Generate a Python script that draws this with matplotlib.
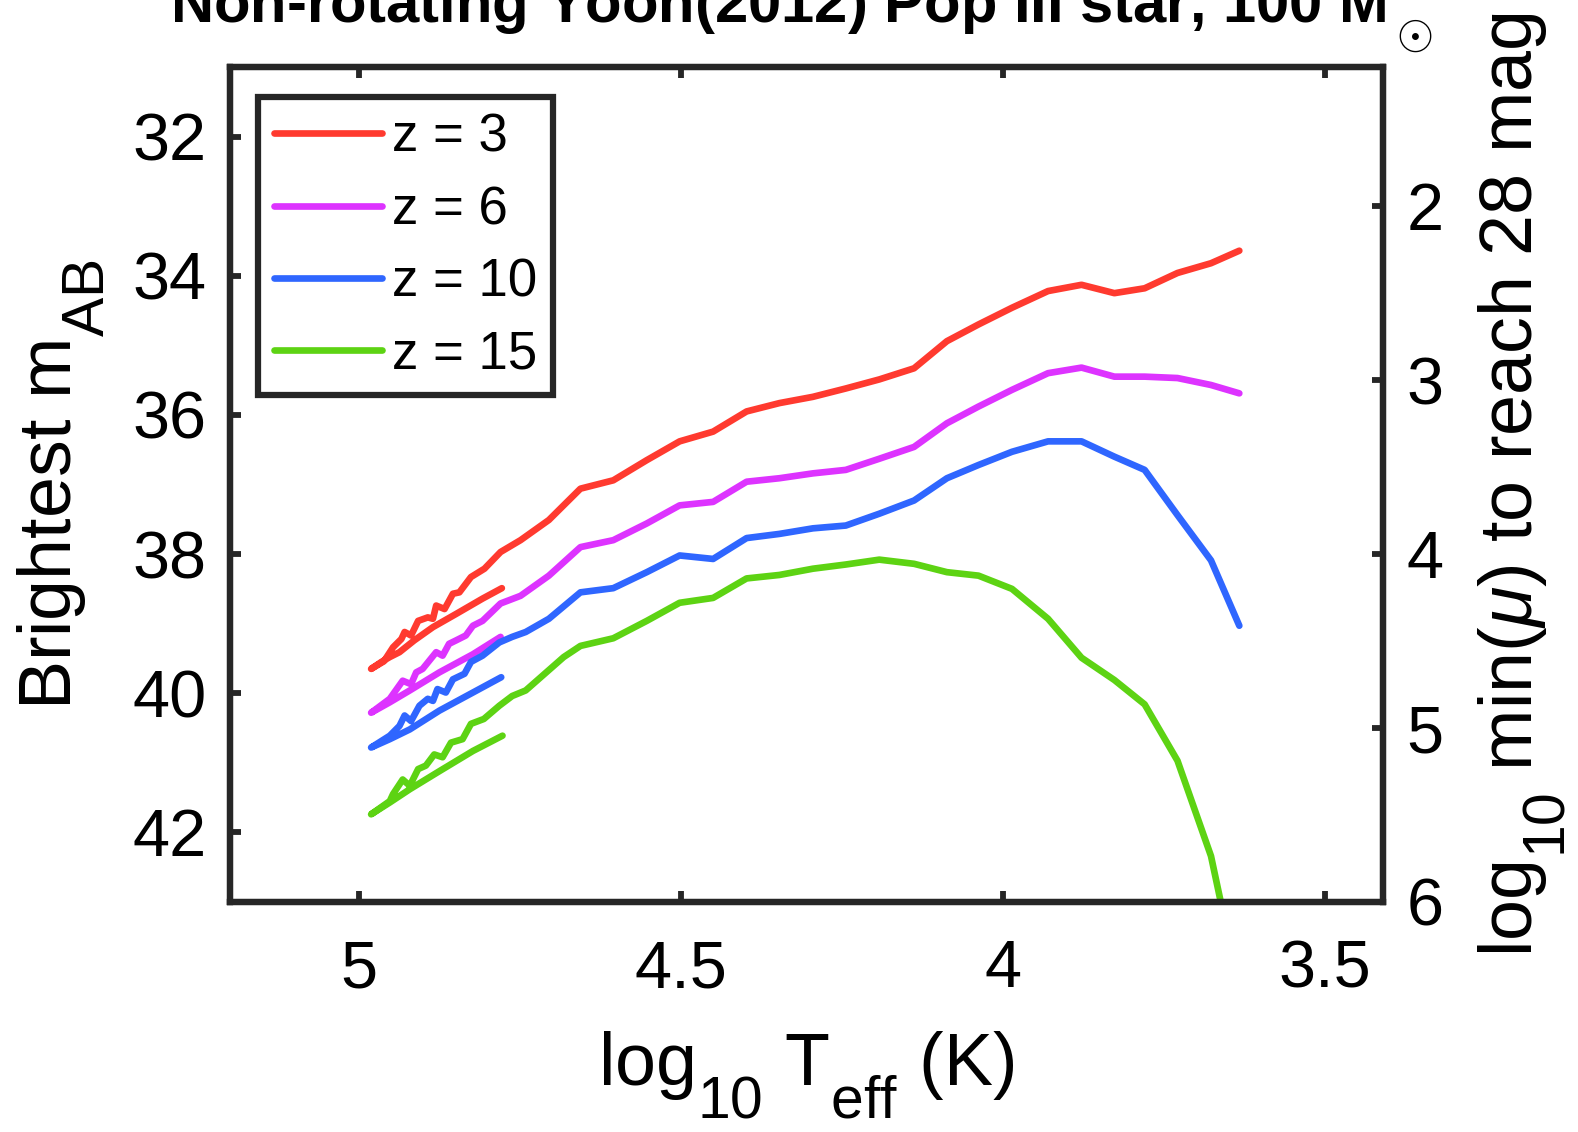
import matplotlib
matplotlib.use("Agg")
import matplotlib.pyplot as plt

plt.rcParams['font.family'] = ['Liberation Sans', 'DejaVu Sans']
plt.rcParams['mathtext.fontset'] = 'custom'
plt.rcParams['mathtext.rm'] = 'Liberation Sans'
plt.rcParams['mathtext.it'] = 'Liberation Sans:italic'
plt.rcParams['mathtext.bf'] = 'Liberation Sans:bold'

# bigger, lower subscripts like the original (MATLAB tex interpreter)
try:
    import matplotlib._mathtext as _mt
    _mt.SHRINK_FACTOR = 0.8
    _mt.FontConstantsBase.sub1 = 0.85
except Exception:
    pass

# data (log10 Teff, brightest AB magnitude)
logT_z3 = [4.778, 4.808, 4.849, 4.885, 4.914, 4.937, 4.952, 4.965, 4.981,
           4.961, 4.947, 4.934, 4.929, 4.919, 4.908, 4.893, 4.885, 4.880, 4.867,
           4.854, 4.844, 4.826, 4.805, 4.780, 4.749, 4.705, 4.656, 4.605, 4.553,
           4.502, 4.450, 4.398, 4.347, 4.295, 4.244, 4.192, 4.138, 4.087, 4.038,
           3.986, 3.930, 3.878, 3.827, 3.780, 3.729, 3.677, 3.633]
m_z3 = [38.49, 38.64, 38.86, 39.05, 39.24, 39.41, 39.48, 39.55, 39.65,
        39.54, 39.34, 39.22, 39.12, 39.17, 38.96, 38.91, 38.93, 38.74, 38.79,
        38.57, 38.55, 38.33, 38.21, 37.97, 37.80, 37.51, 37.06, 36.94, 36.65,
        36.38, 36.24, 35.95, 35.83, 35.74, 35.62, 35.49, 35.33, 34.94, 34.70,
        34.46, 34.22, 34.13, 34.25, 34.18, 33.96, 33.82, 33.64]

logT_z6 = [4.780, 4.823, 4.875, 4.921, 4.952, 4.981,
           4.952, 4.932, 4.919, 4.911, 4.901, 4.880, 4.870, 4.860, 4.849, 4.834,
           4.823, 4.808, 4.780, 4.749, 4.705, 4.656, 4.605, 4.553, 4.502, 4.450,
           4.398, 4.347, 4.295, 4.244, 4.192, 4.138, 4.087, 4.038, 3.986, 3.930,
           3.878, 3.827, 3.780, 3.729, 3.677, 3.633]
m_z6 = [39.19, 39.44, 39.70, 39.96, 40.13, 40.28,
        40.08, 39.82, 39.87, 39.70, 39.65, 39.41, 39.46, 39.29, 39.24, 39.17,
        39.03, 38.96, 38.71, 38.60, 38.31, 37.90, 37.80, 37.56, 37.30, 37.25,
        36.96, 36.91, 36.84, 36.79, 36.63, 36.46, 36.12, 35.88, 35.64, 35.40,
        35.32, 35.45, 35.45, 35.47, 35.57, 35.69]

logT_z10 = [4.779, 4.823, 4.875, 4.921, 4.952, 4.981,
            4.952, 4.937, 4.929, 4.919, 4.906, 4.893, 4.885, 4.878, 4.865, 4.854,
            4.836, 4.826, 4.808, 4.782, 4.762, 4.741, 4.705, 4.656, 4.605, 4.553,
            4.502, 4.450, 4.398, 4.347, 4.295, 4.244, 4.192, 4.138, 4.087, 4.038,
            3.986, 3.930, 3.878, 3.827, 3.780, 3.729, 3.677, 3.633]
m_z10 = [39.77, 39.99, 40.25, 40.52, 40.66, 40.78,
         40.61, 40.47, 40.32, 40.40, 40.18, 40.08, 40.11, 39.94, 39.99, 39.80,
         39.72, 39.55, 39.46, 39.27, 39.19, 39.12, 38.93, 38.55, 38.49, 38.26,
         38.02, 38.07, 37.77, 37.71, 37.63, 37.59, 37.42, 37.23, 36.91, 36.72,
         36.53, 36.38, 36.38, 36.60, 36.79, 37.44, 38.09, 39.03]

logT_z15 = [4.777, 4.823, 4.875, 4.921, 4.952, 4.981,
            4.952, 4.947, 4.932, 4.921, 4.908, 4.896, 4.883, 4.870, 4.857, 4.839,
            4.826, 4.806, 4.782, 4.762, 4.741, 4.682, 4.656, 4.605, 4.553, 4.502,
            4.450, 4.398, 4.347, 4.295, 4.244, 4.192, 4.138, 4.087, 4.038, 3.986,
            3.930, 3.878, 3.827, 3.780, 3.729, 3.677, 3.633]
m_z15 = [40.61, 40.83, 41.12, 41.38, 41.57, 41.74,
         41.55, 41.45, 41.24, 41.33, 41.09, 41.04, 40.88, 40.92, 40.71, 40.66,
         40.44, 40.37, 40.18, 40.04, 39.96, 39.48, 39.32, 39.21, 38.96, 38.70,
         38.63, 38.35, 38.30, 38.21, 38.15, 38.08, 38.14, 38.26, 38.31, 38.50,
         38.93, 39.49, 39.81, 40.16, 40.97, 42.34, 44.25]

labels = ['z = 3', 'z = 6', 'z = 10', 'z = 15']
colors = ['#FF3A2F', '#DD33FF', '#2F66FF', '#5DD313']

xticks = [5, 4.5, 4, 3.5]
yticks = [32, 34, 36, 38, 40, 42]
mu_ticks = [2, 3, 4, 5, 6]
m_lim = (31, 43)
m_ref = 28

axcol = '#262626'

fig = plt.figure(figsize=(15.78, 11.32), dpi=100)
ax = fig.add_axes([0.1458, 0.2032, 0.7306, 0.7376])

series = [(logT_z3, m_z3), (logT_z6, m_z6), (logT_z10, m_z10), (logT_z15, m_z15)]
for (x, y), c, lab in zip(series, colors, labels):
    ax.plot(x, y, color=c, lw=4.8, label=lab, solid_joinstyle='round',
            solid_capstyle='round')

ax.set_xlim(5.2, 3.41)
ax.set_ylim(m_lim[1], m_lim[0])
ax.set_xticks(xticks)
ax.set_xticklabels(['5', '4.5', '4', '3.5'])
ax.set_yticks(yticks)

ax2 = ax.twinx()
ax2.set_ylim((m_lim[1] - m_ref) / 2.5, (m_lim[0] - m_ref) / 2.5)
ax2.set_yticks(mu_ticks)

for a in (ax, ax2):
    for s in a.spines.values():
        s.set_linewidth(4.5)
        s.set_color(axcol)
    a.tick_params(direction='in', length=8, width=4.2, color=axcol,
                  labelsize=48, labelcolor='black')
ax.tick_params(axis='x', top=True, pad=27)
ax.tick_params(axis='y', pad=17)
ax2.tick_params(axis='y', pad=17)

ax.set_xlabel(r'log$_{10}$ T$_{\rm eff}$ (K)', fontsize=53, labelpad=20)
ax.set_ylabel(r'Brightest m$_{\rm AB}$', fontsize=53, labelpad=18)
ax2.set_ylabel(r'log$_{10}$ min($\mu$) to reach 28 mag', fontsize=53,
               rotation=90, labelpad=24)

leg = ax.legend(loc='upper left', bbox_to_anchor=(28 / 1153, 1 - 30 / 835),
                borderaxespad=0, fontsize=38, handlelength=2.05,
                handletextpad=0.19, labelspacing=0.42, borderpad=0.3,
                fancybox=False, framealpha=1)
leg.get_frame().set_edgecolor(axcol)
leg.get_frame().set_linewidth(4.5)

fig.text(0.508, 1 - 22 / 1132, r'Non-rotating Yoon(2012) Pop III star, 100 M$_\odot$',
         ha='center', va='baseline', fontsize=43, fontweight='bold')

fig.savefig('out.png', dpi=100)
